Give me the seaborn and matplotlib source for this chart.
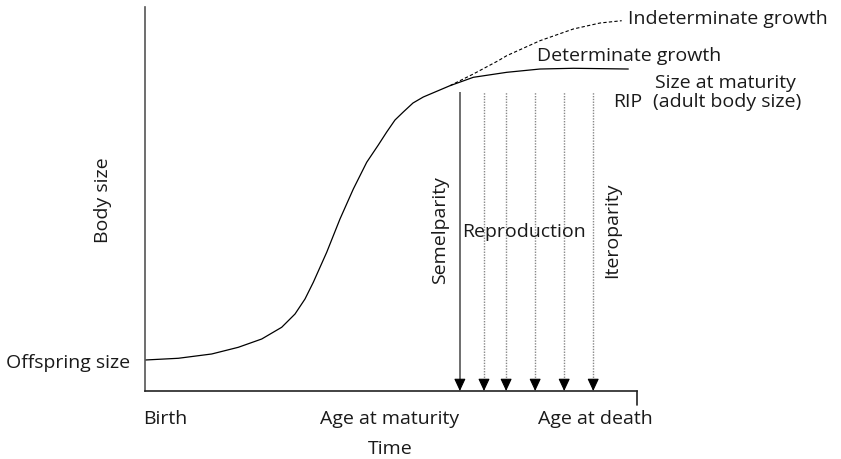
import pandas as pd
import matplotlib.pyplot as plt
import seaborn as sns

# growth curve up to maturity and determinate plateau (time 0-100, body size 0-100)
time = [0, 6.77, 13.56, 18.96, 23.72, 27.78, 30.49, 32.52, 34.21, 36.93, 39.63, 42.34,
        45.06, 47.42, 49.13, 50.81, 52.50, 54.47, 56.56, 61.99, 66.73, 73.52, 80.28, 87.05, 98.23]
size = [8.07, 8.52, 9.64, 11.38, 13.54, 16.59, 20.05, 23.96, 28.31, 36.12, 44.79, 52.60,
        59.56, 64.06, 67.45, 70.57, 72.66, 75.0, 76.56, 79.51, 81.69, 82.99, 83.85, 84.04, 83.85]

# indeterminate growth branch
time_indet = [61.99, 66.73, 71.81, 73.52, 80.28, 87.05, 92.48, 96.89]
size_indet = [79.51, 82.55, 86.02, 87.32, 91.22, 94.27, 95.83, 96.43]

# reproduction events (first one = semelparity)
repro_times = [64.0, 68.9, 73.4, 79.3, 85.2, 91.1]
repro_top = 77.9

sns.set_theme(style="white")
plt.rcParams["font.family"] = ["Open Sans", "DejaVu Sans"]

fig = plt.figure(figsize=(8.41, 4.60), dpi=100)
ax = fig.add_axes([145 / 841, 68 / 460, 492 / 841, 384 / 460])

df = pd.DataFrame({"time": time, "size": size})
df_indet = pd.DataFrame({"time": time_indet, "size": size_indet})
sns.lineplot(data=df, x="time", y="size", color="black", lw=0.9, ax=ax)
sns.lineplot(data=df_indet, x="time", y="size", color="black", lw=0.8,
             linestyle=(0, (3, 2)), ax=ax)

# arrows: shaft + filled black head
for i, t in enumerate(repro_times):
    if i == 0:
        ax.vlines(t, 2, repro_top, color="#555555", lw=1.2)
    else:
        ax.vlines(t, 2, repro_top, color="#888888", lw=1.0, linestyles=(0, (1, 1)))
    ax.annotate("", xy=(t, 0), xytext=(t, 3.0),
                arrowprops=dict(arrowstyle="-|>,head_length=0.75,head_width=0.35",
                                color="black", lw=0.8, mutation_scale=10,
                                shrinkA=0, shrinkB=0))

ax.set_xlim(0, 100)
ax.set_ylim(0, 100)
ax.set_xticks([])
ax.set_yticks([])
ax.set_xlabel("")
ax.set_ylabel("")
for s in ["top", "right"]:
    ax.spines[s].set_visible(False)
ax.spines["left"].set_color("#555555")
ax.spines["bottom"].set_color("#222222")
ax.spines["left"].set_linewidth(1.2)
ax.spines["bottom"].set_linewidth(1.2)
# small end tick at age at death
ax.plot([100, 100], [0, -3.6], color="#222222", lw=1.2, clip_on=False)

tk = dict(fontsize=14, color="#1a1a1a")
ax.text(-3.05, 6.3, "Offspring size", ha="right", va="baseline", **tk)
ax.text(-0.4, -8.4, "Birth", ha="left", va="baseline", **tk)
ax.text(49.8, -8.4, "Age at maturity", ha="center", va="baseline", **tk)
ax.text(91.6, -8.4, "Age at death", ha="center", va="baseline", **tk)
ax.text(49.8, -16.1, "Time", ha="center", va="baseline", **tk)
ax.text(-8.5, 50, "Body size", rotation=90, ha="center", va="center", **tk)
ax.text(98.2, 95.9, "Indeterminate growth", ha="left", va="baseline", **tk)
ax.text(79.7, 86.3, "Determinate growth", ha="left", va="baseline", **tk)
ax.text(103.7, 79.17, "Size at maturity", ha="left", va="baseline", **tk)
ax.text(103.3, 74.22, "(adult body size)", ha="left", va="baseline", **tk)
ax.text(95.1, 74.22, "RIP", ha="left", va="baseline", **tk)
ax.text(60.0, 42.2, "Semelparity", rotation=90, ha="center", va="center", **tk)
ax.text(77.0, 41.7, "Reproduction", ha="center", va="center", **tk)
ax.text(94.9, 42.2, "Iteroparity", rotation=90, ha="center", va="center", **tk)

fig.savefig("out.png", dpi=100)
